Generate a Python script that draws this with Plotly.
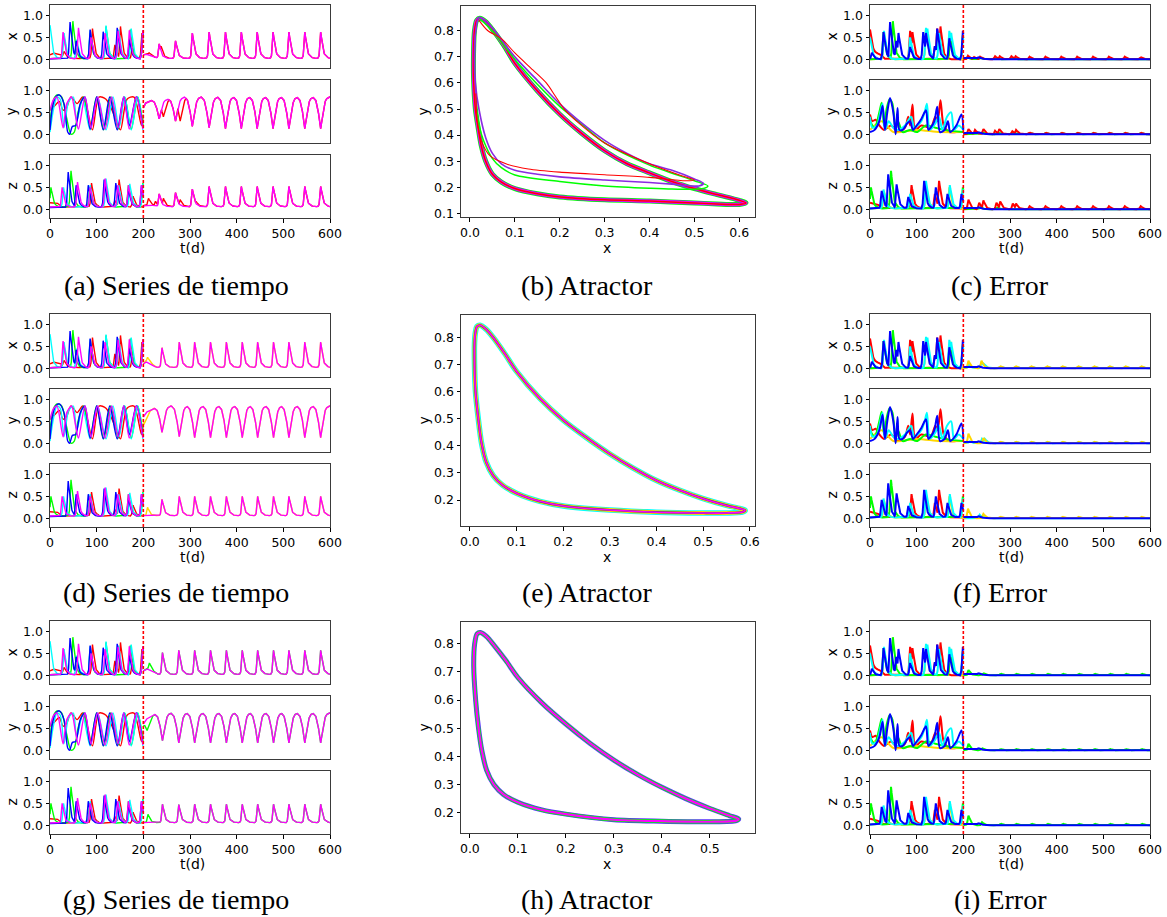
import numpy as np
import plotly.graph_objects as go

W, H = 1167, 917

# ---------------- colours ----------------
RED = "#ff0000"
GREEN = "#00ff00"
CYAN = "#00ffff"
BLUE = "#0000ff"
MAGENTA = "#ff00ff"
YELLOW = "#ffd700"
PURPLE = "#8a2be2"

# ---------------- ticks / text ----------------
T_TICKS = [0, 100, 200, 300, 400, 500, 600]
V_TICKS = [0.0, 0.5, 1.0]
VAR_LABELS = ["x", "y", "z"]
CAPTIONS = [["(a) Series de tiempo", "(b) Atractor", "(c) Error"],
            ["(d) Series de tiempo", "(e) Atractor", "(f) Error"],
            ["(g) Series de tiempo", "(h) Atractor", "(i) Error"]]
T_SPLIT = 200

# ---------------- time series, t < 200 (same in all rows) ----------------
X_PRE_RED_T = [30, 91, 139, 151, 176, 197]
X_PRE_RED_H = [0.18, 0.70, 0.33, 0.75, 0.25, 0.60]
X_PRE_RED_BT = [0, 6, 22, 30, 200]
X_PRE_RED_BV = [0.10, 0.14, 0.12, 0.02, 0.01]
X_PRE_GRN_T = [29, 49, 86, 120, 172, 199]
X_PRE_GRN_H = [0.60, 0.87, 0.60, 0.75, 0.68, 0.62]
X_PRE_CYN_T = [0, 30, 57, 86, 120, 147, 174, 199]
X_PRE_CYN_H = [0.78, 0.60, 0.45, 0.66, 0.77, 0.68, 0.70, 0.65]
X_PRE_BLU_T = [43, 56, 86, 114, 144, 170, 199]
X_PRE_BLU_H = [0.85, 0.42, 0.68, 0.63, 0.72, 0.45, 0.65]
X_PRE_MAG_T = [28, 61, 88, 118, 146, 170, 199]
X_PRE_MAG_H = [0.62, 0.72, 0.50, 0.60, 0.65, 0.66, 0.66]

Z_PRE_RED_T = [89, 139, 148, 178]
Z_PRE_RED_H = [0.60, 0.20, 0.68, 0.30]
Z_PRE_RED_BT = [0, 15, 25, 200]
Z_PRE_RED_BV = [0.15, 0.15, 0.05, 0.05]
Z_PRE_GRN_T = [2, 45, 85, 118, 168, 199]
Z_PRE_GRN_H = [0.50, 0.88, 0.50, 0.65, 0.55, 0.60]
Z_PRE_CYN_T = [29, 86, 120, 147, 171, 199]
Z_PRE_CYN_H = [0.50, 0.55, 0.70, 0.55, 0.58, 0.58]
Z_PRE_BLU_T = [39, 56, 82, 116, 141, 168, 196]
Z_PRE_BLU_H = [0.85, 0.55, 0.55, 0.68, 0.60, 0.45, 0.55]
Z_PRE_MAG_T = [26, 59, 86, 118, 145, 168, 196]
Z_PRE_MAG_H = [0.50, 0.62, 0.50, 0.70, 0.55, 0.55, 0.55]

Y_PRE_GRN_T = [0, 8, 15, 25, 35, 45, 52, 60, 72, 86, 100, 115, 130, 146, 160, 174, 188, 200]
Y_PRE_GRN_V = [0.30, 0.80, 0.90, 0.85, 0.40, 0.00, 0.05, 0.50, 0.85, 0.15, 0.85, 0.10, 0.85, 0.12, 0.85, 0.12, 0.85, 0.15]
Y_PRE_BLU_T = [0, 5, 12, 20, 30, 38, 42, 48, 55, 65, 75, 86, 100, 114, 128, 144, 158, 170, 185, 199]
Y_PRE_BLU_V = [0.10, 0.60, 0.85, 0.90, 0.70, 0.05, 0.00, 0.18, 0.20, 0.70, 0.85, 0.12, 0.85, 0.10, 0.85, 0.10, 0.85, 0.20, 0.86, 0.15]
Y_PRE_RED_T = [0, 10, 20, 28, 35, 45, 58, 70, 80, 91, 105, 120, 139, 151, 165, 180, 196, 200]
Y_PRE_RED_V = [0.55, 0.65, 0.75, 0.55, 0.60, 0.85, 0.70, 0.85, 0.55, 0.10, 0.85, 0.80, 0.40, 0.10, 0.80, 0.85, 0.20, 0.45]
Y_PRE_MAG_T = [0, 8, 15, 28, 36, 46, 55, 61, 75, 88, 102, 118, 132, 146, 158, 170, 185, 199]
Y_PRE_MAG_V = [0.55, 0.80, 0.85, 0.15, 0.70, 0.85, 0.40, 0.12, 0.85, 0.15, 0.85, 0.12, 0.85, 0.15, 0.85, 0.12, 0.85, 0.12]
Y_PRE_CYN_T = [0, 8, 15, 22, 30, 40, 50, 57, 70, 86, 102, 120, 135, 148, 160, 174, 188, 199]
Y_PRE_CYN_V = [0.05, 0.60, 0.85, 0.80, 0.15, 0.75, 0.85, 0.30, 0.80, 0.10, 0.85, 0.10, 0.85, 0.15, 0.85, 0.10, 0.85, 0.10]

# ---------------- time series, t >= 200, per row ----------------
# row 1 (a)
A_PK_T = [234, 269, 305, 341, 376, 410, 444, 478, 512, 546, 580]
A_X_H = [0.35, 0.42, 0.60, 0.62, 0.62, 0.62, 0.62, 0.62, 0.62, 0.62, 0.62]
A_Y_LOW = [0.35, 0.30, 0.18, 0.15, 0.13, 0.13, 0.13, 0.13, 0.13, 0.13, 0.13]
A_Z_H = [0.35, 0.38, 0.46, 0.52, 0.52, 0.52, 0.52, 0.52, 0.52, 0.52, 0.52]
A_X_BT = [200, 206, 222, 232, 600]
A_X_BV = [0.10, 0.12, 0.05, 0.02, 0.02]
A_Y_TT = [200, 203, 215, 250, 290, 600]
A_Y_TV = [0.60, 0.70, 0.77, 0.80, 0.85, 0.85]
A_Z_BT = [200, 215, 230, 600]
A_Z_BV = [0.08, 0.10, 0.06, 0.06]
A_DEV_X_T = [212, 238]
A_DEV_X_H = [0.15, 0.30]
A_DEV_Z_T = [211, 226, 243, 279, 313]
A_DEV_Z_H = [0.25, 0.18, 0.25, 0.22, 0.18]
A_DEV_Y_T = [243, 279]
A_DEV_Y_LOW = [0.40, 0.30]
# row 2 (d)
B_PK_T = [240, 277, 310, 344, 378, 412, 445, 479, 512, 546, 580]
B_X_H = [0.47, 0.60, 0.60, 0.60, 0.60, 0.60, 0.60, 0.60, 0.60, 0.60, 0.60]
B_Y_LOW = [0.25, 0.15, 0.13, 0.13, 0.13, 0.13, 0.13, 0.13, 0.13, 0.13, 0.13]
B_Z_H = [0.43, 0.50, 0.50, 0.50, 0.50, 0.50, 0.50, 0.50, 0.50, 0.50, 0.50]
B_X_BT = [200, 205, 215, 228, 600]
B_X_BV = [0.10, 0.15, 0.10, 0.02, 0.02]
B_Y_TT = [200, 205, 223, 257, 600]
B_Y_TV = [0.60, 0.70, 0.80, 0.85, 0.85]
B_Z_BT = [200, 600]
B_Z_BV = [0.06, 0.06]
B_DEV_X_T = [209]
B_DEV_X_H = [0.25]
B_DEV_Z_T = [209, 247]
B_DEV_Z_H = [0.25, 0.12]
B_DEV_Y_T = [202]
B_DEV_Y_LOW = [0.45]
# row 3 (g)
C_PK_T = [241, 276, 310, 344, 378, 412, 445, 479, 512, 546, 580]
C_X_H = [0.52, 0.57, 0.57, 0.57, 0.57, 0.57, 0.57, 0.57, 0.57, 0.57, 0.57]
C_Y_LOW = [0.22, 0.17, 0.17, 0.17, 0.17, 0.17, 0.17, 0.17, 0.17, 0.17, 0.17]
C_Z_H = [0.48, 0.47, 0.48, 0.48, 0.48, 0.48, 0.48, 0.48, 0.48, 0.48, 0.48]
C_X_BT = [200, 207, 220, 230, 600]
C_X_BV = [0.10, 0.15, 0.08, 0.02, 0.02]
C_Y_TT = [200, 205, 223, 257, 600]
C_Y_TV = [0.60, 0.70, 0.82, 0.85, 0.85]
C_Z_BT = [200, 600]
C_Z_BV = [0.06, 0.06]
C_DEV_X_T = [213]
C_DEV_X_H = [0.28]
C_DEV_Z_T = [210]
C_DEV_Z_H = [0.25]
C_DEV_Y_T = [208]
C_DEV_Y_LOW = [0.45]

# ---------------- errors, t < 200 (same in all rows) ----------------
EX_PRE_RED_T = [0, 86, 91, 139, 144, 151]
EX_PRE_RED_H = [0.68, 0.65, 0.62, 0.30, 0.70, 0.75]
EX_PRE_RED_BT = [0, 8, 22, 30, 200]
EX_PRE_RED_BV = [0.05, 0.12, 0.12, 0.01, 0.0]
EX_PRE_GRN_T = [29, 49, 172, 199]
EX_PRE_GRN_H = [0.62, 0.87, 0.60, 0.55]
EX_PRE_YEL_T = [30, 120, 172]
EX_PRE_YEL_H = [0.60, 0.70, 0.60]
EX_PRE_CYN_T = [0, 30, 86, 120, 123, 148, 170, 174, 199]
EX_PRE_CYN_H = [0.50, 0.65, 0.50, 0.72, 0.70, 0.60, 0.65, 0.60, 0.50]
EX_PRE_BLU_T = [4, 29, 43, 56, 61, 86, 114, 120, 139, 144, 170, 199]
EX_PRE_BLU_H = [0.15, 0.62, 0.85, 0.42, 0.60, 0.28, 0.62, 0.60, 0.30, 0.70, 0.48, 0.65]

EZ_PRE_RED_T = [89, 139, 148]
EZ_PRE_RED_H = [0.55, 0.35, 0.65]
EZ_PRE_RED_BT = [0, 15, 25, 200]
EZ_PRE_RED_BV = [0.15, 0.12, 0.03, 0.02]
EZ_PRE_GRN_T = [2, 45, 199]
EZ_PRE_GRN_H = [0.50, 0.88, 0.50]
EZ_PRE_YEL_T = [30, 120, 170]
EZ_PRE_YEL_H = [0.40, 0.55, 0.50]
EZ_PRE_CYN_T = [29, 86, 120, 171, 199]
EZ_PRE_CYN_H = [0.45, 0.35, 0.65, 0.55, 0.45]
EZ_PRE_BLU_T = [25, 39, 57, 82, 116, 141, 166, 196]
EZ_PRE_BLU_H = [0.42, 0.80, 0.57, 0.28, 0.65, 0.50, 0.35, 0.35]

EY_PRE_BLU_T = [0, 10, 20, 27, 32, 37, 43, 50, 55, 59, 63, 70, 80, 86, 92, 100, 110, 120, 125, 130, 138, 144, 150, 160, 167, 172, 185, 196, 200]
EY_PRE_BLU_V = [0.05, 0.10, 0.30, 0.65, 0.10, 0.50, 0.83, 0.50, 0.00, 0.60, 0.10, 0.10, 0.25, 0.30, 0.10, 0.20, 0.35, 0.55, 0.10, 0.15, 0.30, 0.63, 0.05, 0.10, 0.30, 0.05, 0.20, 0.45, 0.10]
EY_PRE_RED_T = [0, 5, 12, 20, 30, 45, 60, 75, 82, 86, 91, 97, 110, 130, 140, 145, 151, 158, 170, 185, 200]
EY_PRE_RED_V = [0.45, 0.30, 0.33, 0.20, 0.10, 0.20, 0.05, 0.15, 0.40, 0.20, 0.68, 0.10, 0.20, 0.15, 0.40, 0.30, 0.78, 0.20, 0.05, 0.05, 0.05]
EY_PRE_CYN_T = [0, 5, 15, 22, 27, 32, 40, 50, 60, 75, 88, 95, 110, 117, 122, 128, 140, 148, 155, 165, 174, 180, 190, 200]
EY_PRE_CYN_V = [0.40, 0.15, 0.20, 0.50, 0.70, 0.10, 0.30, 0.15, 0.10, 0.20, 0.40, 0.15, 0.30, 0.50, 0.70, 0.10, 0.25, 0.40, 0.10, 0.40, 0.50, 0.10, 0.20, 0.10]
EY_PRE_GRN_T = [0, 10, 20, 25, 30, 36, 42, 48, 55, 60, 70, 86, 100, 120, 140, 160, 200]
EY_PRE_GRN_V = [0.30, 0.15, 0.50, 0.72, 0.20, 0.60, 0.80, 0.70, 0.10, 0.30, 0.05, 0.10, 0.05, 0.20, 0.15, 0.10, 0.05]
EY_PRE_YEL_T = [0, 25, 50, 100, 150, 200]
EY_PRE_YEL_V = [0.10, 0.30, 0.05, 0.10, 0.05, 0.05]

# ---------------- errors, t >= 200, per row ----------------
EP_PERIODIC_A = [342, 376, 410, 444, 478, 512, 546, 580]
EA_X_RED_T = [210, 222, 236, 268, 278, 303, 312] + EP_PERIODIC_A
EA_X_RED_H = [0.08, 0.06, 0.06, 0.07, 0.07, 0.07, 0.07, 0.06, 0.06, 0.06, 0.06, 0.06, 0.06, 0.06, 0.05]
EA_X_GRN_T = [208, 236, 270, 305]
EA_X_GRN_H = [0.05, 0.04, 0.03, 0.03]
EA_Y_RED_T = [211, 225, 243, 268, 277, 305, 313] + EP_PERIODIC_A
EA_Y_RED_H = [0.12, 0.10, 0.12, 0.08, 0.12, 0.07, 0.10, 0.04, 0.04, 0.04, 0.04, 0.04, 0.04, 0.04, 0.04]
EA_Y_GRN_T = [240, 275, 308] + EP_PERIODIC_A
EA_Y_GRN_H = [0.05, 0.04, 0.04, 0.03, 0.03, 0.03, 0.03, 0.03, 0.03, 0.03, 0.03]
EA_Z_RED_T = [211, 234, 243, 271, 279, 306, 313] + EP_PERIODIC_A
EA_Z_RED_H = [0.22, 0.15, 0.20, 0.15, 0.18, 0.13, 0.13, 0.07, 0.07, 0.07, 0.07, 0.07, 0.07, 0.07, 0.07]
EA_Z_GRN_T = [236, 272]
EA_Z_GRN_H = [0.05, 0.04]

EP_PERIODIC_B = [279, 312, 345, 379, 412, 446, 480, 513, 547, 581]
EB_X_YEL_T = [211, 239] + EP_PERIODIC_B
EB_X_YEL_H = [0.17, 0.17] + [0.05] * 10
EB_X_CYN_T = [211, 239, 244] + EP_PERIODIC_B
EB_X_CYN_H = [0.10, 0.15, 0.10] + [0.04] * 10
EB_Y_YEL_T = [211, 243] + EP_PERIODIC_B
EB_Y_YEL_H = [0.22, 0.12] + [0.04] * 10
EB_Y_CYN_T = [213, 240, 246] + EP_PERIODIC_B
EB_Y_CYN_H = [0.05, 0.10, 0.10] + [0.03] * 10
EB_Z_YEL_T = [210, 243] + EP_PERIODIC_B
EB_Z_YEL_H = [0.22, 0.10] + [0.04] * 10
EB_Z_CYN_T = [235, 242]
EB_Z_CYN_H = [0.08, 0.07]

EP_PERIODIC_C = [280, 313, 346, 380, 413, 447, 481, 514, 548, 582]
EC_X_GRN_T = [211, 243] + EP_PERIODIC_C
EC_X_GRN_H = [0.12, 0.05] + [0.04] * 10
EC_Y_GRN_T = [211, 240] + EP_PERIODIC_C
EC_Y_GRN_H = [0.15, 0.05] + [0.03] * 10
EC_Z_GRN_T = [211, 240] + EP_PERIODIC_C
EC_Z_GRN_H = [0.22, 0.07] + [0.04] * 10

E_BLU_POST_T = [232]
E_BLU_POST_H = [0.05]
E_BLU_POST_BT = [200, 225, 250, 600]
E_BLU_POST_BV = [0.03, 0.02, 0.0, 0.0]

# ---------------- attractors ----------------
ATT_B_MAIN_X = [0.012, 0.008, 0.008, 0.010, 0.015, 0.022, 0.035, 0.05, 0.075, 0.10, 0.15, 0.20, 0.25, 0.30, 0.35, 0.40, 0.45, 0.50, 0.55, 0.60, 0.615, 0.60, 0.55, 0.50, 0.40, 0.30, 0.20, 0.15, 0.10, 0.07, 0.05, 0.035, 0.025, 0.018, 0.012]
ATT_B_MAIN_Y = [0.50, 0.62, 0.72, 0.80, 0.84, 0.848, 0.835, 0.805, 0.745, 0.675, 0.57, 0.48, 0.405, 0.34, 0.29, 0.255, 0.222, 0.195, 0.172, 0.15, 0.14, 0.134, 0.136, 0.14, 0.147, 0.152, 0.163, 0.175, 0.195, 0.22, 0.25, 0.30, 0.36, 0.43, 0.50]
ATT_B_PUR_X = [0.02, 0.05, 0.10, 0.15, 0.20, 0.25, 0.30, 0.35, 0.40, 0.45, 0.50, 0.52, 0.51, 0.45, 0.40, 0.30, 0.20, 0.15, 0.10, 0.07, 0.05, 0.035, 0.02, 0.012, 0.010, 0.013, 0.02]
ATT_B_PUR_Y = [0.852, 0.81, 0.70, 0.61, 0.52, 0.445, 0.38, 0.33, 0.29, 0.265, 0.232, 0.215, 0.205, 0.212, 0.218, 0.228, 0.24, 0.25, 0.265, 0.29, 0.33, 0.39, 0.50, 0.60, 0.70, 0.80, 0.852]
ATT_B_GRN_X = [0.02, 0.05, 0.10, 0.15, 0.20, 0.25, 0.30, 0.40, 0.50, 0.53, 0.52, 0.45, 0.40, 0.30, 0.20, 0.10, 0.07, 0.05, 0.03, 0.02, 0.015]
ATT_B_GRN_Y = [0.85, 0.80, 0.69, 0.595, 0.51, 0.44, 0.37, 0.285, 0.225, 0.205, 0.195, 0.193, 0.196, 0.205, 0.222, 0.247, 0.275, 0.31, 0.38, 0.44, 0.50]
ATT_B_RED_X = [0.02, 0.04, 0.07, 0.10, 0.14, 0.17, 0.19, 0.21, 0.24, 0.30, 0.40, 0.47, 0.50, 0.48, 0.40, 0.30, 0.20, 0.13, 0.08, 0.045, 0.025, 0.016, 0.013]
ATT_B_RED_Y = [0.84, 0.80, 0.77, 0.715, 0.65, 0.60, 0.55, 0.50, 0.45, 0.37, 0.29, 0.245, 0.228, 0.225, 0.238, 0.248, 0.258, 0.27, 0.29, 0.32, 0.38, 0.46, 0.56]

ATT_E_X = [0.010, 0.012, 0.015, 0.022, 0.035, 0.05, 0.075, 0.10, 0.15, 0.20, 0.25, 0.30, 0.35, 0.40, 0.45, 0.50, 0.55, 0.58, 0.59, 0.585, 0.55, 0.50, 0.40, 0.30, 0.20, 0.15, 0.10, 0.07, 0.05, 0.035, 0.025, 0.018, 0.012, 0.010, 0.010]
ATT_E_Y = [0.78, 0.82, 0.84, 0.845, 0.83, 0.80, 0.74, 0.675, 0.575, 0.495, 0.43, 0.37, 0.318, 0.272, 0.236, 0.205, 0.18, 0.168, 0.162, 0.156, 0.152, 0.152, 0.155, 0.163, 0.178, 0.195, 0.225, 0.255, 0.29, 0.34, 0.41, 0.50, 0.60, 0.70, 0.78]

ATT_H_X = [0.008, 0.010, 0.015, 0.022, 0.035, 0.05, 0.075, 0.10, 0.15, 0.20, 0.25, 0.30, 0.35, 0.40, 0.45, 0.50, 0.54, 0.56, 0.555, 0.50, 0.40, 0.30, 0.20, 0.15, 0.10, 0.07, 0.05, 0.035, 0.025, 0.018, 0.012, 0.008]
ATT_H_Y = [0.72, 0.80, 0.835, 0.84, 0.825, 0.795, 0.74, 0.68, 0.59, 0.515, 0.447, 0.387, 0.335, 0.29, 0.25, 0.215, 0.19, 0.178, 0.172, 0.168, 0.17, 0.175, 0.195, 0.21, 0.237, 0.265, 0.30, 0.35, 0.42, 0.50, 0.60, 0.72]

ATT_RANGES_X = [[-0.02, 0.635], [-0.019, 0.611], [-0.0185, 0.594]]
ATT_RANGES_Y = [[0.086, 0.895], [0.104, 0.883], [0.128, 0.877]]
ATT_XTICKS = [[0.0, 0.1, 0.2, 0.3, 0.4, 0.5, 0.6], [0.0, 0.1, 0.2, 0.3, 0.4, 0.5, 0.6], [0.0, 0.1, 0.2, 0.3, 0.4, 0.5]]
ATT_YTICKS = [[0.1, 0.2, 0.3, 0.4, 0.5, 0.6, 0.7, 0.8], [0.2, 0.3, 0.4, 0.5, 0.6, 0.7, 0.8], [0.2, 0.3, 0.4, 0.5, 0.6, 0.7, 0.8]]

# ---------------- shape kernels (style) ----------------
SPIKE_DT = [-6.0, -3.5, -2.0, 0.0, 2.0, 4.5, 8.0, 13.0, 20.0]
SPIKE_FR = [0.0, 0.10, 0.45, 1.0, 0.75, 0.40, 0.17, 0.05, 0.0]
DIP_DT = [-17, -11, -6, -2.5, 0, 2.5, 6, 11, 17]
DIP_FR = [0.0, 0.08, 0.35, 0.75, 1.0, 0.75, 0.35, 0.08, 0.0]

t_pre = np.arange(0, T_SPLIT + 0.001, 0.25)
t_post = np.arange(T_SPLIT, 600.001, 0.5)


def spikes(t, times, heights, bt=(0, 600), bv=(0.01, 0.01)):
    base = np.interp(t, bt, bv)
    v = base.copy()
    for tp, h in zip(times, heights):
        v = np.maximum(v, base + (h - base) * np.interp(t - tp, SPIKE_DT, SPIKE_FR, left=0.0, right=0.0))
    return v


def dips(t, times, lows, tt, tv):
    top = np.interp(t, tt, tv)
    v = top.copy()
    for tp, lo in zip(times, lows):
        v = np.minimum(v, top - (top - lo) * np.interp(t - tp, DIP_DT, DIP_FR, left=0.0, right=0.0))
    return v


fig = go.Figure()
axcount = [0]
LINE_COL = "#3a3a3a"
TICK_FONT = dict(family="DejaVu Sans", size=12.5, color="black")


def box(x0, x1, y0, y1):
    return [x0 / W, x1 / W], [1 - y1 / H, 1 - y0 / H]


def new_axes(px, py, xr, yr, xt, yt, show_x):
    axcount[0] += 1
    n = axcount[0]
    s = "" if n == 1 else str(n)
    xd, yd = box(px[0], px[1], py[0], py[1])
    common = dict(showline=True, mirror=True, linecolor=LINE_COL, linewidth=1,
                  showgrid=False, zeroline=False, tickfont=TICK_FONT, automargin=False,
                  tickcolor="black", ticklen=3.5, tickwidth=1, fixedrange=True)
    fig.update_layout(**{
        "xaxis" + s: dict(domain=xd, range=xr, anchor="y" + s, tickvals=xt,
                          ticktext=[str(v) if isinstance(v, int) else "%.1f" % v for v in xt],
                          showticklabels=show_x, ticks="outside" if show_x else "", **common),
        "yaxis" + s: dict(domain=yd, range=yr, anchor="x" + s, tickvals=yt,
                          ticktext=["%.1f" % v for v in yt], ticks="outside", **common),
    })
    return "x" + s, "y" + s


def line(xa, ya, x, y, color, width, shape="linear"):
    fig.add_trace(go.Scatter(x=x, y=y, mode="lines", xaxis=xa, yaxis=ya,
                             line=dict(color=color, width=width, shape=shape, smoothing=0.8),
                             showlegend=False, hoverinfo="skip"))


def vline(xa, ya):
    fig.add_shape(type="line", x0=T_SPLIT, x1=T_SPLIT, y0=0, y1=1, xref=xa, yref=ya + " domain",
                  line=dict(color=RED, width=1.6, dash="3px,2px"))


def label(text, x, y, rot=0, size=14, family="DejaVu Sans"):
    fig.add_annotation(text=text, x=x / W, y=1 - y / H, xref="paper", yref="paper",
                       showarrow=False, textangle=rot, font=dict(family=family, size=size, color="black"),
                       xanchor="center", yanchor="middle")


# pre-200 series (identical for the three rows)
X_PRE = [(RED, spikes(t_pre, X_PRE_RED_T, X_PRE_RED_H, X_PRE_RED_BT, X_PRE_RED_BV)),
         (GREEN, spikes(t_pre, X_PRE_GRN_T, X_PRE_GRN_H)),
         (CYAN, spikes(t_pre, X_PRE_CYN_T, X_PRE_CYN_H)),
         (BLUE, spikes(t_pre, X_PRE_BLU_T, X_PRE_BLU_H)),
         (MAGENTA, spikes(t_pre, X_PRE_MAG_T, X_PRE_MAG_H))]
Z_PRE = [(RED, spikes(t_pre, Z_PRE_RED_T, Z_PRE_RED_H, Z_PRE_RED_BT, Z_PRE_RED_BV)),
         (GREEN, spikes(t_pre, Z_PRE_GRN_T, Z_PRE_GRN_H, (0, 200), (0.05, 0.05))),
         (CYAN, spikes(t_pre, Z_PRE_CYN_T, Z_PRE_CYN_H, (0, 200), (0.05, 0.05))),
         (BLUE, spikes(t_pre, Z_PRE_BLU_T, Z_PRE_BLU_H, (0, 200), (0.04, 0.05))),
         (MAGENTA, spikes(t_pre, Z_PRE_MAG_T, Z_PRE_MAG_H, (0, 200), (0.05, 0.05)))]
Y_PRE = [(RED, Y_PRE_RED_T, Y_PRE_RED_V), (GREEN, Y_PRE_GRN_T, Y_PRE_GRN_V),
         (CYAN, Y_PRE_CYN_T, Y_PRE_CYN_V), (BLUE, Y_PRE_BLU_T, Y_PRE_BLU_V),
         (MAGENTA, Y_PRE_MAG_T, Y_PRE_MAG_V)]

EX_PRE = [(RED, spikes(t_pre, EX_PRE_RED_T, EX_PRE_RED_H, EX_PRE_RED_BT, EX_PRE_RED_BV)),
          (YELLOW, spikes(t_pre, EX_PRE_YEL_T, EX_PRE_YEL_H, (0, 200), (0.0, 0.0))),
          (GREEN, spikes(t_pre, EX_PRE_GRN_T, EX_PRE_GRN_H, (0, 200), (0.0, 0.0))),
          (CYAN, spikes(t_pre, EX_PRE_CYN_T, EX_PRE_CYN_H, (0, 200), (0.0, 0.0))),
          (BLUE, spikes(t_pre, EX_PRE_BLU_T, EX_PRE_BLU_H, (0, 200), (0.0, 0.0)))]
EZ_PRE = [(RED, spikes(t_pre, EZ_PRE_RED_T, EZ_PRE_RED_H, EZ_PRE_RED_BT, EZ_PRE_RED_BV)),
          (YELLOW, spikes(t_pre, EZ_PRE_YEL_T, EZ_PRE_YEL_H, (0, 200), (0.02, 0.02))),
          (GREEN, spikes(t_pre, EZ_PRE_GRN_T, EZ_PRE_GRN_H, (0, 200), (0.02, 0.02))),
          (CYAN, spikes(t_pre, EZ_PRE_CYN_T, EZ_PRE_CYN_H, (0, 200), (0.02, 0.02))),
          (BLUE, spikes(t_pre, EZ_PRE_BLU_T, EZ_PRE_BLU_H, (0, 200), (0.02, 0.02)))]
EY_PRE = [(RED, EY_PRE_RED_T, EY_PRE_RED_V), (YELLOW, EY_PRE_YEL_T, EY_PRE_YEL_V),
          (GREEN, EY_PRE_GRN_T, EY_PRE_GRN_V), (CYAN, EY_PRE_CYN_T, EY_PRE_CYN_V),
          (BLUE, EY_PRE_BLU_T, EY_PRE_BLU_V)]

ROWS = [
    dict(pk=A_PK_T, xh=A_X_H, ylow=A_Y_LOW, zh=A_Z_H, xbt=A_X_BT, xbv=A_X_BV, ytt=A_Y_TT, ytv=A_Y_TV,
         zbt=A_Z_BT, zbv=A_Z_BV, dev=RED, dxt=A_DEV_X_T, dxh=A_DEV_X_H, dyt=A_DEV_Y_T, dyl=A_DEV_Y_LOW,
         dzt=A_DEV_Z_T, dzh=A_DEV_Z_H,
         ex=[(GREEN, EA_X_GRN_T, EA_X_GRN_H), (RED, EA_X_RED_T, EA_X_RED_H)],
         ey=[(GREEN, EA_Y_GRN_T, EA_Y_GRN_H), (RED, EA_Y_RED_T, EA_Y_RED_H)],
         ez=[(GREEN, EA_Z_GRN_T, EA_Z_GRN_H), (RED, EA_Z_RED_T, EA_Z_RED_H)]),
    dict(pk=B_PK_T, xh=B_X_H, ylow=B_Y_LOW, zh=B_Z_H, xbt=B_X_BT, xbv=B_X_BV, ytt=B_Y_TT, ytv=B_Y_TV,
         zbt=B_Z_BT, zbv=B_Z_BV, dev=YELLOW, dxt=B_DEV_X_T, dxh=B_DEV_X_H, dyt=B_DEV_Y_T, dyl=B_DEV_Y_LOW,
         dzt=B_DEV_Z_T, dzh=B_DEV_Z_H,
         ex=[(CYAN, EB_X_CYN_T, EB_X_CYN_H), (YELLOW, EB_X_YEL_T, EB_X_YEL_H)],
         ey=[(CYAN, EB_Y_CYN_T, EB_Y_CYN_H), (YELLOW, EB_Y_YEL_T, EB_Y_YEL_H)],
         ez=[(CYAN, EB_Z_CYN_T, EB_Z_CYN_H), (YELLOW, EB_Z_YEL_T, EB_Z_YEL_H)]),
    dict(pk=C_PK_T, xh=C_X_H, ylow=C_Y_LOW, zh=C_Z_H, xbt=C_X_BT, xbv=C_X_BV, ytt=C_Y_TT, ytv=C_Y_TV,
         zbt=C_Z_BT, zbv=C_Z_BV, dev=GREEN, dxt=C_DEV_X_T, dxh=C_DEV_X_H, dyt=C_DEV_Y_T, dyl=C_DEV_Y_LOW,
         dzt=C_DEV_Z_T, dzh=C_DEV_Z_H,
         ex=[(GREEN, EC_X_GRN_T, EC_X_GRN_H)],
         ey=[(GREEN, EC_Y_GRN_T, EC_Y_GRN_H)],
         ez=[(GREEN, EC_Z_GRN_T, EC_Z_GRN_H)]),
]

ROW_OFF = [0, 309, 616]
TS_BOX_Y = [(5, 68), (80, 143), (155, 218)]
ATT_BOX_Y = (6, 217)
LEFT_X = (50, 330)
RIGHT_X = (870, 1150)
MID_X = (461, 755)
CAPTION_Y = [285, 592, 899]
CAPTION_X = [176, 587, 1000]

TS_W = 1.4
ERR_W = 2.0

for g, R in enumerate(ROWS):
    off = ROW_OFF[g]
    x_post = spikes(t_post, R["pk"], R["xh"], R["xbt"], R["xbv"])
    y_post = dips(t_post, R["pk"], R["ylow"], R["ytt"], R["ytv"])
    z_post = spikes(t_post, R["pk"], R["zh"], R["zbt"], R["zbv"])
    x_dev = spikes(t_post, list(R["dxt"]) + list(R["pk"]), list(R["dxh"]) + list(R["xh"]), R["xbt"], R["xbv"])
    y_dev = dips(t_post, list(R["dyt"]) + list(R["pk"]), list(R["dyl"]) + list(R["ylow"]), R["ytt"], R["ytv"])
    z_dev = spikes(t_post, list(R["dzt"]) + list(R["pk"]), list(R["dzh"]) + list(R["zh"]), R["zbt"], R["zbv"])

    for k in range(3):
        py = (TS_BOX_Y[k][0] + off, TS_BOX_Y[k][1] + off)
        # ---------- time series panel
        xa, ya = new_axes(LEFT_X, py, [0, 600], [-0.2, 1.24], T_TICKS, V_TICKS, k == 2)
        if k == 0:
            for c, v in X_PRE:
                line(xa, ya, t_pre, v, c, TS_W)
            line(xa, ya, t_post, x_dev, R["dev"], TS_W)
            line(xa, ya, t_post, x_post, MAGENTA, TS_W)
        elif k == 1:
            for c, tt, vv in Y_PRE:
                line(xa, ya, tt, vv, c, TS_W, "spline")
            line(xa, ya, t_post, y_dev, R["dev"], TS_W)
            line(xa, ya, t_post, y_post, MAGENTA, TS_W)
        else:
            for c, v in Z_PRE:
                line(xa, ya, t_pre, v, c, TS_W)
            line(xa, ya, t_post, z_dev, R["dev"], TS_W)
            line(xa, ya, t_post, z_post, MAGENTA, TS_W)
        vline(xa, ya)
        label(VAR_LABELS[k], 11, (py[0] + py[1]) / 2, rot=-90)

        # ---------- error panel
        xa, ya = new_axes(RIGHT_X, py, [0, 600], [-0.2, 1.24], T_TICKS, V_TICKS, k == 2)
        if k == 1:
            for c, tt, vv in EY_PRE:
                line(xa, ya, tt, vv, c, ERR_W, "spline")
        else:
            for c, v in (EX_PRE if k == 0 else EZ_PRE):
                line(xa, ya, t_pre, v, c, ERR_W)
        post_list = R["ex"] if k == 0 else (R["ey"] if k == 1 else R["ez"])
        for c, tt, hh in post_list:
            line(xa, ya, t_post, spikes(t_post, tt, hh, (200, 600), (0.0, 0.0)), c, ERR_W)
        line(xa, ya, t_post, spikes(t_post, E_BLU_POST_T, E_BLU_POST_H, E_BLU_POST_BT, E_BLU_POST_BV), BLUE, ERR_W)
        vline(xa, ya)
        label(VAR_LABELS[k], 831, (py[0] + py[1]) / 2, rot=-90)

    label("t(d)", 192, 248 + off)
    label("t(d)", 1012, 248 + off)

    # ---------- attractor
    py = (ATT_BOX_Y[0] + off, ATT_BOX_Y[1] + off)
    xa, ya = new_axes(MID_X, py, ATT_RANGES_X[g], ATT_RANGES_Y[g], ATT_XTICKS[g], ATT_YTICKS[g], True)
    if g == 0:
        line(xa, ya, ATT_B_MAIN_X, ATT_B_MAIN_Y, GREEN, 5, "spline")
        line(xa, ya, ATT_B_MAIN_X, ATT_B_MAIN_Y, PURPLE, 3.6, "spline")
        line(xa, ya, ATT_B_MAIN_X, ATT_B_MAIN_Y, MAGENTA, 2.6, "spline")
        line(xa, ya, ATT_B_MAIN_X, ATT_B_MAIN_Y, RED, 1.5, "spline")
        line(xa, ya, ATT_B_GRN_X, ATT_B_GRN_Y, GREEN, 1.5, "spline")
        line(xa, ya, ATT_B_PUR_X, ATT_B_PUR_Y, PURPLE, 1.6, "spline")
        line(xa, ya, ATT_B_RED_X, ATT_B_RED_Y, RED, 1.1, "spline")
    elif g == 1:
        line(xa, ya, ATT_E_X, ATT_E_Y, CYAN, 5.5, "spline")
        line(xa, ya, ATT_E_X, ATT_E_Y, YELLOW, 3.8, "spline")
        line(xa, ya, ATT_E_X, ATT_E_Y, "#505050", 2.2, "spline")
        line(xa, ya, ATT_E_X, ATT_E_Y, MAGENTA, 1.6, "spline")
    else:
        line(xa, ya, ATT_H_X, ATT_H_Y, "#5a2cff", 5, "spline")
        line(xa, ya, ATT_H_X, ATT_H_Y, GREEN, 3.6, "spline")
        line(xa, ya, ATT_H_X, ATT_H_Y, MAGENTA, 2.2, "spline")
    label("y", 423, (py[0] + py[1]) / 2, rot=-90)
    label("x", 607, 248 + off)

    for c in range(3):
        label(CAPTIONS[g][c], CAPTION_X[c], CAPTION_Y[g], size=28, family="Liberation Serif")

fig.update_layout(width=W, height=H, margin=dict(l=0, r=0, t=0, b=0), autosize=False,
                  paper_bgcolor="white", plot_bgcolor="white", showlegend=False)
fig.write_html("out.html")
